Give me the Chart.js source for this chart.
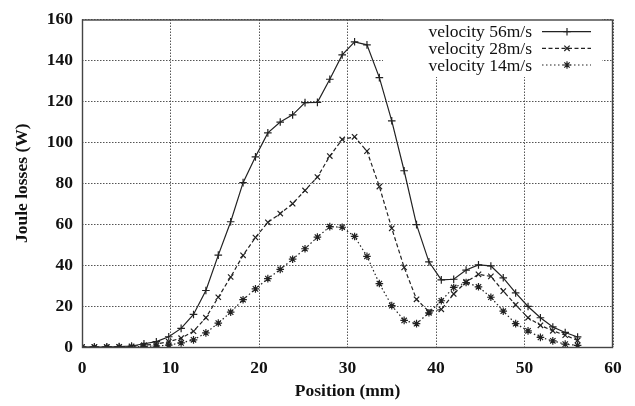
<!DOCTYPE html>
<html>
<head>
<meta charset="utf-8">
<script src="https://cdn.jsdelivr.net/npm/chart.js@4/dist/chart.umd.min.js"></script>
<style>
  html, body { margin: 0; padding: 0; background: #fff; }
  #wrap { width: 635px; height: 406px; }
</style>
</head>
<body>
<div id="wrap"><canvas id="graph" width="635" height="406"></canvas></div>
<script>
// position along the machine (mm)
var positions = [0, 1.4, 2.8, 4.2, 5.6, 7, 8.4, 9.8, 11.2, 12.6, 14, 15.4, 16.8, 18.2, 19.6,
  21, 22.4, 23.8, 25.2, 26.6, 28, 29.4, 30.8, 32.2, 33.6, 35, 36.4, 37.8, 39.2, 40.6,
  42, 43.4, 44.8, 46.2, 47.6, 49, 50.4, 51.8, 53.2, 54.6, 56];

// joule losses (W)
var v56 = [0, 0, 0, 0.2, 0.5, 1.6, 2.6, 5.0, 9.1, 15.9, 27.6, 44.9, 61.2, 80.3, 92.9,
  104.6, 109.9, 113.4, 119.4, 119.5, 130.8, 142.7, 149.1, 147.6, 131.6, 110.5, 86.1, 59.8, 41.6, 32.8,
  33.1, 37.6, 40.1, 39.6, 33.8, 26.4, 19.8, 14.3, 9.8, 7.1, 4.9];
var v28 = [0, 0, 0, 0.1, 0.3, 0.9, 1.4, 2.6, 4.3, 7.7, 14.3, 24.3, 34.2, 44.8, 53.5,
  60.9, 65.2, 70.0, 76.5, 83.0, 93.3, 101.4, 102.7, 95.7, 78.4, 58.0, 38.9, 23.3, 17.3, 18.4,
  25.9, 31.8, 35.5, 34.5, 27.3, 20.6, 14.3, 10.6, 7.9, 5.8, 3.2];
var v14 = [0, 0, 0, 0, 0, 0.3, 0.5, 0.9, 2.0, 3.5, 6.9, 11.7, 17.0, 23.1, 28.4,
  33.4, 37.9, 42.9, 48.0, 53.7, 58.8, 58.5, 54.0, 44.3, 31.0, 20.2, 13.0, 11.4, 16.7, 22.6,
  29.1, 31.5, 29.4, 24.3, 17.5, 11.4, 7.9, 4.7, 3.0, 1.4, 0.8];

var seriesLabels = ["velocity 56m/s", "velocity 28m/s", "velocity 14m/s"];
var xTicks = [0, 10, 20, 30, 40, 50, 60];
var yTicks = [0, 20, 40, 60, 80, 100, 120, 140, 160];

var serif = "'Liberation Serif', 'DejaVu Serif', serif";
var ink = "#222";

function points(vals) {
  return positions.map(function (p, i) { return { x: p, y: vals[i] }; });
}

var styles = [
  { dash: [], point: "cross" },
  { dash: [4, 2.5], point: "crossRot" },
  { dash: [1.5, 2.5], point: "star" }
];

function makeSet(label, vals, st) {
  return {
    label: label,
    data: points(vals),
    borderColor: ink,
    backgroundColor: ink,
    borderWidth: 1.2,
    borderDash: st.dash,
    pointStyle: st.point,
    pointRadius: 3.8,
    pointBorderWidth: 1.2,
    pointBorderColor: ink,
    fill: false,
    tension: 0
  };
}

// gnuplot-like key with a white box, plus the plot frame
var frame = {
  id: "frame",
  beforeDatasetsDraw: function (c) {
    var ctx = c.ctx;
    ctx.save();
    ctx.fillStyle = "#fff";
    ctx.fillRect(383, 16, 219, 61);
    ctx.restore();
  },
  afterDraw: function (c) {
    var ctx = c.ctx;
    var a = c.chartArea;
    ctx.save();
    ctx.strokeStyle = "#444";
    ctx.lineWidth = 1.4;
    ctx.setLineDash([]);
    ctx.strokeRect(a.left + 0.5, a.top + 0.5, a.right - a.left - 1, a.bottom - a.top);

    var rows = [31.7, 48.3, 65];
    ctx.font = "17.5px " + serif;
    ctx.fillStyle = "#111";
    ctx.textAlign = "right";
    ctx.textBaseline = "middle";
    c.data.datasets.forEach(function (ds, i) {
      var y = rows[i];
      ctx.fillText(ds.label, 532, y + 1);
      ctx.strokeStyle = ink;
      ctx.lineWidth = 1.2;
      ctx.setLineDash(ds.borderDash);
      ctx.beginPath();
      ctx.moveTo(542, y);
      ctx.lineTo(591, y);
      ctx.stroke();
      ctx.setLineDash([]);
      Chart.helpers.drawPoint(ctx, {
        pointStyle: ds.pointStyle, radius: 3.8, borderWidth: 1.2
      }, 567, y);
    });
    ctx.restore();
  }
};

var chart = new Chart(document.getElementById("graph").getContext("2d"), {
  type: "line",
  data: {
    datasets: [
      makeSet(seriesLabels[0], v56, styles[0]),
      makeSet(seriesLabels[1], v28, styles[1]),
      makeSet(seriesLabels[2], v14, styles[2])
    ]
  },
  options: {
    responsive: false,
    animation: false,
    layout: { padding: { left: 0, top: 15, right: 22, bottom: 0 } },
    plugins: {
      legend: { display: false },
      tooltip: { enabled: false }
    },
    scales: {
      x: {
        type: "linear",
        min: 0,
        max: 60,
        afterFit: function (s) { s.height = 59; },
        afterBuildTicks: function (s) { s.ticks = xTicks.map(function (v) { return { value: v }; }); },
        grid: { color: "#555", lineWidth: 1, drawTicks: false },
        border: { display: false, dash: [1.5, 1.5] },
        ticks: {
          padding: 11,
          color: "#111",
          font: { family: serif, size: 17.5, weight: "bold" }
        },
        title: {
          display: true,
          text: "Position (mm)",
          color: "#111",
          padding: { top: 0, bottom: 4 },
          font: { family: serif, size: 17.5, weight: "bold" }
        }
      },
      y: {
        type: "linear",
        min: 0,
        max: 160,
        afterFit: function (s) { s.width = 82; },
        afterBuildTicks: function (s) { s.ticks = yTicks.map(function (v) { return { value: v }; }); },
        grid: { color: "#555", lineWidth: 1, drawTicks: false },
        border: { display: false, dash: [1.5, 1.5] },
        ticks: {
          padding: 9,
          color: "#111",
          font: { family: serif, size: 17.5, weight: "bold" }
        },
        title: {
          display: true,
          text: "Joule losses (W)",
          color: "#111",
          padding: { top: 12, bottom: 0 },
          font: { family: serif, size: 17.5, weight: "bold" }
        }
      }
    }
  },
  plugins: [frame]
});
</script>
</body>
</html>
